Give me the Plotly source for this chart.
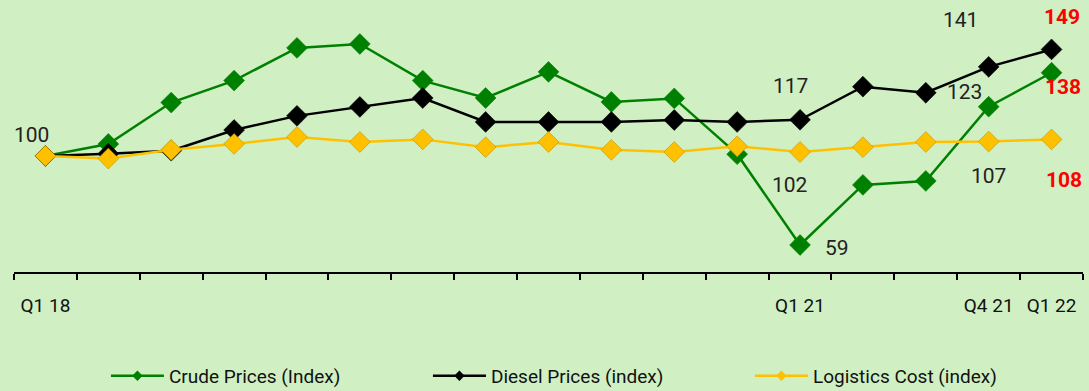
import plotly.graph_objects as go

quarters = ["Q1 18", "Q2 18", "Q3 18", "Q4 18", "Q1 19", "Q2 19", "Q3 19", "Q4 19",
            "Q1 20", "Q2 20", "Q3 20", "Q4 20", "Q1 21", "Q2 21", "Q3 21", "Q4 21", "Q1 22"]
shown_ticks = ["Q1 18", "Q1 21", "Q4 21", "Q1 22"]

crude = [100, 105.5, 124.5, 134.6, 149.6, 151.4, 134.6, 126.6, 138.6, 124.8, 126.4,
         100.8, 59.1, 86.7, 88.5, 122.6, 138.2]
diesel = [100, 101, 102.4, 111.9, 118.4, 122.5, 126.6, 115.6, 115.6, 115.6, 116.5,
          115.6, 116.6, 131.8, 129.0, 140.9, 148.9]
logistics = [100, 98.8, 102.8, 105.5, 108.7, 106.4, 107.6, 104.0, 106.4, 102.8, 101.8,
             104.4, 101.8, 104.0, 106.4, 106.6, 107.6]

names = ["Crude Prices (Index)", "Diesel Prices (index)", "Logistics Cost (index)"]
colors = ["#008000", "#000000", "#FFC000"]

x = list(range(len(quarters)))
series = [crude, diesel, logistics]
FONT = "Roboto, sans-serif"

fig = go.Figure()
for vals, nm, col in zip(series, names, colors):
    fig.add_trace(go.Scatter(
        x=x, y=vals, mode="lines+markers", name=nm, showlegend=False,
        line=dict(color=col, width=2.5),
        marker=dict(symbol="diamond", size=16, color=col,
                    line=dict(color="#bf9000" if col == "#FFC000" else col, width=0.6)),
        cliponaxis=False, hoverinfo="skip"))
# legend entries (small markers)
for nm, col in zip(names, colors):
    fig.add_trace(go.Scatter(
        x=[None], y=[None], mode="lines+markers", name=nm,
        line=dict(color=col, width=2.5),
        marker=dict(symbol="diamond", size=8, color=col)))

# data labels: (series index, point index, dx, dy, highlighted)
labels = [
    (0, 0, -14, 21, False),
    (1, 12, -10, 34, False),
    (2, 12, -10, -33, False),
    (0, 12, 37, -3, False),
    (1, 15, -28, 47, False),
    (0, 15, -24, 15, False),
    (2, 15, 0, -34, False),
    (1, 16, 10, 32, True),
    (0, 16, 11, -14, True),
    (2, 16, 12, -41, True),
]
for si, pi, dx, dy, hl in labels:
    v = series[si][pi]
    fig.add_annotation(
        x=pi, y=v, text=f"{round(v)}", showarrow=False, xshift=dx, yshift=dy,
        font=dict(family=FONT, size=21,
                  color="#ff0000" if hl else "#222222",
                  weight="bold" if hl else "normal"))

tickvals = [quarters.index(q) for q in shown_ticks]
fig.update_layout(
    width=1089, height=391,
    margin=dict(l=14, r=6, t=0, b=119, autoexpand=False),
    paper_bgcolor="#d0f0c3", plot_bgcolor="#d0f0c3",
    font=dict(family=FONT, color="#222222"),
    xaxis=dict(range=[-0.5, len(quarters) - 0.5], tickvals=tickvals, ticktext=shown_ticks,
               ticks="", showgrid=False, zeroline=False, showline=True,
               linecolor="#000000", linewidth=1.5, ticklabelstandoff=15,
               tickfont=dict(size=19, color="#111111"),
               minor=dict(tickvals=[i - 0.5 for i in range(len(quarters) + 1)],
                          ticks="outside", ticklen=6, tickwidth=1.5, tickcolor="#000000",
                          showgrid=False)),
    yaxis=dict(range=[46.7, 171.6], visible=False, showgrid=False),
    legend=dict(orientation="h", x=0.086, xanchor="left", y=-0.382, yanchor="middle",
                font=dict(size=19, color="#111111"), bgcolor="rgba(0,0,0,0)",
                entrywidth=254, itemwidth=53),
    showlegend=True,
)
fig.write_html("out.html")
